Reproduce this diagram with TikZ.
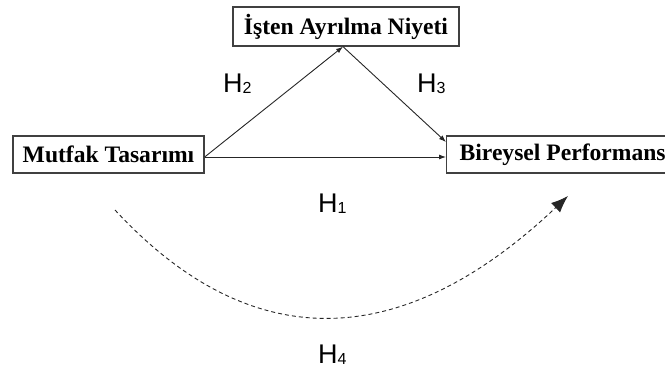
\documentclass[tikz,border=0pt]{standalone}
\usepackage{fontspec}
\setmainfont{Liberation Serif}
\newfontfamily\labfont{Liberation Sans}
\usetikzlibrary{arrows.meta}
\newcommand{\hsub}[1]{\raisebox{-1pt}{\fontsize{16}{16}\selectfont #1}}
\begin{document}
\begin{tikzpicture}[x=1pt,y=-1pt,
  box/.style={draw=black!75, line width=1.3pt, fill=white,
    font=\fontsize{23.6}{23.6}\selectfont\bfseries, inner sep=0pt, minimum height=37pt},
  lab/.style={font=\labfont\fontsize{27}{27}\selectfont, inner sep=0pt, anchor=base west},
  link/.style={draw=black!85, line width=0.9pt, -{Latex[length=7pt,width=5pt]}},
  dashlink/.style={draw=black!85, line width=0.9pt, dash pattern=on 4pt off 3pt,
    -{Latex[length=17pt,width=13pt]}}]
\useasboundingbox (0,0) rectangle (665,370);
\node[box, minimum width=226pt, minimum height=39pt] (t) at (346,26.5) {İşten Ayrılma Niyeti};
\node[box, minimum width=191pt] (m) at (108.5,154.5) {Mutfak Tasarımı};
\node[box, anchor=west, inner xsep=13pt] (r) at (446,154.5) {Bireysel Performans\hspace{20pt}};
\coordinate (tp) at ([xshift=-3pt]t.south);
\draw[link] ([yshift=-2.5pt]m.east) -- (tp);
\draw[link] (tp) -- ([yshift=12.5pt]r.west);
\draw[link] ([yshift=-2.5pt]m.east) -- ([yshift=-2.5pt]r.west);
\coordinate (ds) at (115,210);
\coordinate (de) at (568,196);
\draw[dashlink] (ds) .. controls (251,357) and (402,353) .. (de);
\node[lab] (h2) at (223,92) {H\hsub{2}};
\node[lab] (h3) at (417,92) {H\hsub{3}};
\node[lab] (h1) at (318,212) {H\hsub{1}};
\node[lab] (h4) at (318,363) {H\hsub{4}};
\end{tikzpicture}
\end{document}
